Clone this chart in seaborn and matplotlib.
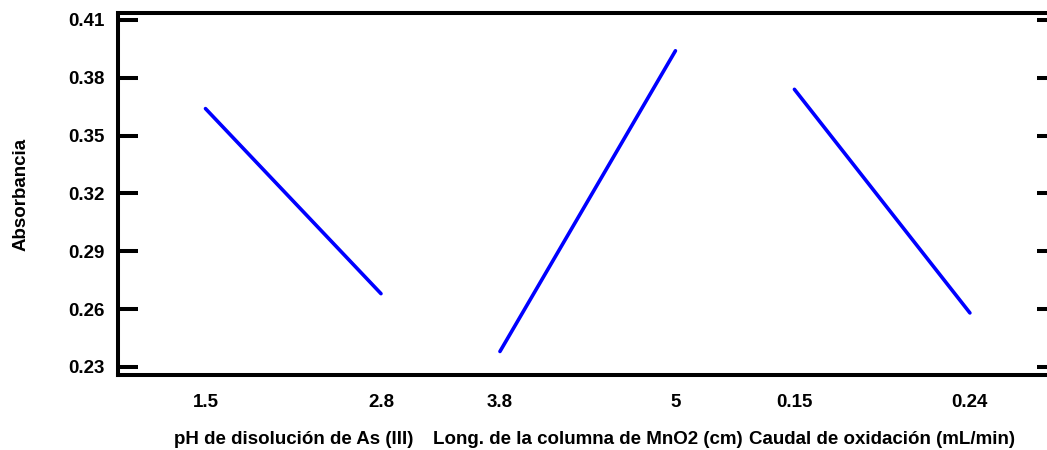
import pandas as pd
import seaborn as sns
import matplotlib
matplotlib.use("Agg")
import matplotlib.pyplot as plt

# main effects for absorbance
factors = ["pH de disolución de As (III)",
           "Long. de la columna de MnO2 (cm)",
           "Caudal de oxidación (mL/min)"]
level_low = ["1.5", "3.8", "0.15"]
level_high = ["2.8", "5", "0.24"]
abs_low = [0.364, 0.238, 0.374]
abs_high = [0.268, 0.394, 0.258]
y_ticks = [0.23, 0.26, 0.29, 0.32, 0.35, 0.38, 0.41]

GAP = 0.678  # space between factor panels, in units of one factor span

rows = []
tick_pos, tick_lab, mids = [], [], []
for i, f in enumerate(factors):
    start = i * (1 + GAP)
    rows.append({"factor": f, "pos": start, "abs": abs_low[i]})
    rows.append({"factor": f, "pos": start + 1, "abs": abs_high[i]})
    tick_pos += [start, start + 1]
    tick_lab += [level_low[i], level_high[i]]
    mids.append(start + 0.5)
df = pd.DataFrame(rows)

sns.set_style("white")
plt.rcParams["font.family"] = ["Liberation Sans", "DejaVu Sans"]
plt.rcParams["font.weight"] = "bold"
plt.rcParams["text.color"] = "black"
plt.rcParams["axes.labelcolor"] = "black"

fig = plt.figure(figsize=(10.47, 4.5), dpi=100)
ax = fig.add_axes([0.1127, 0.1667, 0.8968, 0.8044])

sns.lineplot(data=df, x="pos", y="abs", units="factor", estimator=None,
             color="#0000ff", linewidth=2.6, ax=ax, legend=False)

ax.set_xlim(-0.4986, 4.852)
ax.set_ylim(0.2258, 0.4136)
ax.set_yticks(y_ticks)
ax.set_yticklabels([f"{v:.2f}" for v in y_ticks])
ax.set_xticks(tick_pos)
ax.set_xticklabels(tick_lab)

ax.tick_params(axis="y", direction="in", length=14.4, width=2.9,
               pad=9.5, labelsize=13.5, colors="black",
               left=True, right=True)
ax.tick_params(axis="x", length=0, pad=14, labelsize=13.5, colors="black")
for lab in ax.get_xticklabels() + ax.get_yticklabels():
    lab.set_fontweight("bold")

for side in ["left", "top", "bottom", "right"]:
    ax.spines[side].set_color("black")
    ax.spines[side].set_linewidth(2.9)

ax.set_xlabel("")
ax.set_ylabel("Absorbancia", fontsize=13.5, fontweight="bold", color="black")
ax.yaxis.set_label_coords(-0.094, 0.5)

for m, f in zip(mids, factors):
    ax.text(m, -0.1796, f, transform=ax.get_xaxis_transform(),
            ha="center", va="center", fontsize=13.5, fontweight="bold",
            color="black")

fig.savefig("out.png", dpi=100)
